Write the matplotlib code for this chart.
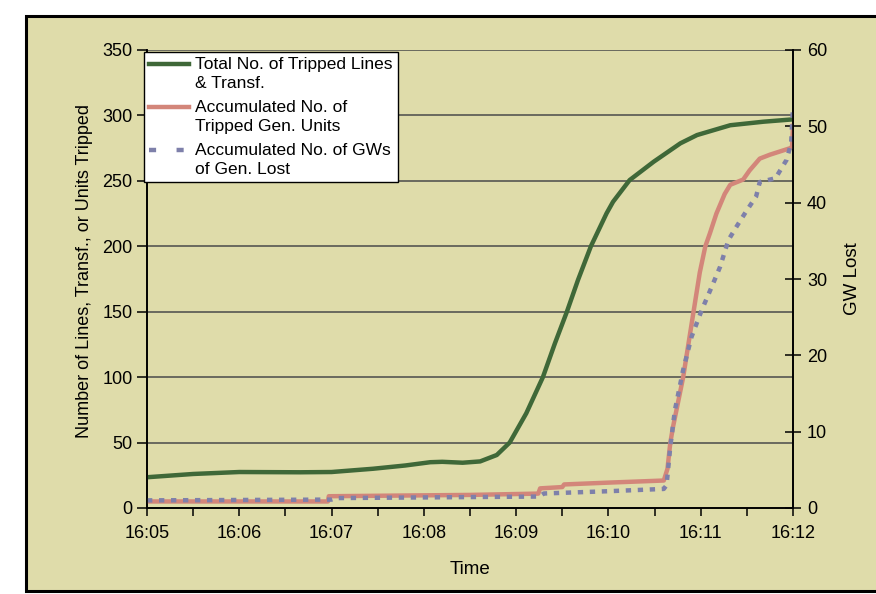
import matplotlib.pyplot as plt
from matplotlib.patches import Rectangle
from matplotlib.lines import Line2D
from matplotlib.legend_handler import HandlerLine2D

plt.rcParams["font.family"] = ["Liberation Sans", "DejaVu Sans"]

# minutes after 16:05
green_t = [0, 0.5, 1.0, 1.66, 2.0, 2.45, 2.8, 3.07, 3.2, 3.42, 3.61, 3.79, 3.93,
           4.11, 4.29, 4.42, 4.55, 4.67, 4.81, 4.98, 5.05, 5.23, 5.49, 5.78,
           5.96, 6.32, 6.68, 7.0]
green_v = [23.5, 26, 27.5, 27.3, 27.5, 30, 32.5, 35, 35.3, 34.6, 35.6, 40.5, 50,
           72.4, 100, 125.8, 150, 174.2, 200, 225.2, 234, 250.6, 264.6, 278.7,
           285, 292.5, 295.2, 297]

red_t = [0, 1.96, 1.97, 3.5, 4.24, 4.26, 4.5, 4.52, 5.0, 5.6, 5.64, 5.67, 5.7,
         5.81, 5.92, 5.99, 6.05, 6.1, 6.17, 6.26, 6.32, 6.46, 6.53, 6.64, 6.75,
         6.97, 6.99, 7.0]
red_v = [5, 5, 9, 10, 11, 15, 16, 18, 19.4, 21, 30, 49.6, 62,
         100, 149, 180, 200, 210, 225, 240, 247, 251, 258, 267, 270,
         275, 276, 292]

blue_t = [0, 2.0, 2.05, 4.25, 4.3, 5.0, 5.6, 5.63, 5.67, 5.72, 5.81, 5.9, 6.01,
          6.12, 6.21, 6.3, 6.39, 6.5, 6.6, 6.64, 6.81, 6.93, 6.98, 7.0]
blue_v = [1.0, 1.1, 1.3, 1.5, 1.9, 2.2, 2.5, 3.0, 8.0, 12.8, 18.1, 22.4, 25.9,
          29.0, 31.6, 35.1, 36.9, 39.0, 40.8, 42.7, 43.2, 45.6, 47.8, 52.6]

x_labels = ["16:05", "16:06", "16:07", "16:08", "16:09", "16:10", "16:11", "16:12"]
labels = ["Total No. of Tripped Lines\n& Transf.",
          "Accumulated No. of\nTripped Gen. Units",
          "Accumulated No. of GWs\nof Gen. Lost"]

bg = "#dfdcaa"
green = "#3f6838"
red = "#d3867a"
blue = "#7e80aa"


class TopHandler(HandlerLine2D):
    # put the legend line next to the first line of a two-line label
    def create_artists(self, legend, orig_handle, xdescent, ydescent, width,
                       height, fontsize, trans):
        return super().create_artists(legend, orig_handle, xdescent,
                                      ydescent - 1.15 * fontsize, width, height,
                                      fontsize, trans)


fig = plt.figure(figsize=(8.76, 5.94), dpi=100)
fig.patch.set_facecolor("white")
fig.patches.append(Rectangle((26 / 876, 1 - 591 / 594), 1.0, (591 - 16) / 594,
                             transform=fig.transFigure, facecolor=bg,
                             edgecolor="black", linewidth=2.2, zorder=-10))

ax = fig.add_axes([147 / 876, 1 - 508 / 594, (793 - 147) / 876, (508 - 50) / 594])
ax.set_facecolor(bg)
ax2 = ax.twinx()

l1, = ax.plot(green_t, green_v, color=green, lw=3.2, zorder=4)
l2, = ax.plot(red_t, red_v, color=red, lw=3.2, zorder=3)
ax2.plot(blue_t, blue_v, color=blue, lw=3.2, ls=(0, (1.2, 1.5)))
l3 = Line2D([], [], color=blue, lw=3.2, ls=(0, (1.6, 4.6)))

ax.set_xlim(0, 7)
ax.set_ylim(0, 350)
ax2.set_ylim(0, 60)
ax.set_xticks(range(8))
ax.set_xticklabels(x_labels)
ax.set_xticks([i + 0.5 for i in range(7)], minor=True)
ax.set_yticks(range(0, 351, 50))
ax2.set_yticks(range(0, 61, 10))

for y in range(50, 351, 50):
    ax.axhline(y, color="#4a4a4a", lw=1.1, zorder=1)

for a in (ax, ax2):
    a.spines["top"].set_visible(False)
    for s in ("left", "right", "bottom"):
        a.spines[s].set_linewidth(1.2)
ax.tick_params(axis="x", which="both", direction="out", length=6, width=1.1,
               labelsize=13, pad=6)
ax.tick_params(axis="y", direction="out", length=7, width=1.1, labelsize=13)
ax2.tick_params(axis="y", direction="inout", length=12, width=1.1, labelsize=13,
                pad=4)

ax.set_xlabel("Time", fontsize=13.5, labelpad=14)
ax.set_ylabel("Number of Lines, Transf., or Units Tripped", fontsize=13)
ax.yaxis.set_label_coords(-0.083, 0.517)
ax2.set_ylabel("GW Lost", fontsize=13.5, labelpad=12)

leg = ax2.legend(handles=[l1, l2, l3], labels=labels, loc="upper left",
                 bbox_to_anchor=(-0.005, 0.996), borderaxespad=0, fontsize=12.5,
                 frameon=True, fancybox=False, handlelength=2.3,
                 handletextpad=0.35, labelspacing=0.55, borderpad=0.3,
                 handler_map={Line2D: TopHandler()})
leg.get_frame().set_edgecolor("black")
leg.get_frame().set_linewidth(1.0)
leg.get_frame().set_facecolor("white")
leg.get_frame().set_alpha(1)
for t in leg.get_texts():
    t.set_linespacing(1.3)

fig.savefig("out.png", dpi=100, facecolor=fig.get_facecolor())
